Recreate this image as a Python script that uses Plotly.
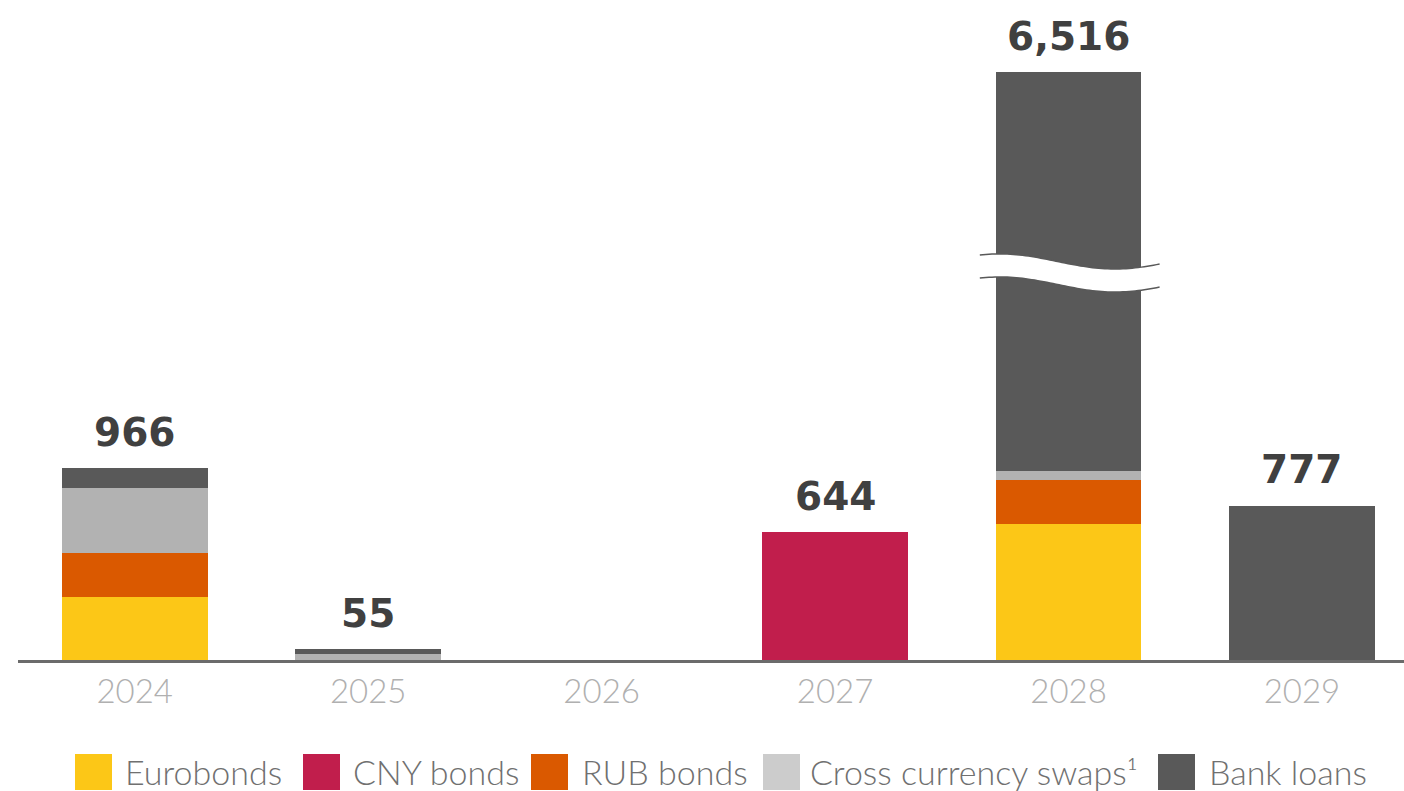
import numpy as np
import plotly.graph_objects as go

# Debt repayment schedule by instrument
years = ["2024", "2025", "2026", "2027", "2028", "2029"]
eurobonds = [317, 0, 0, 0, 686, 0]
cny_bonds = [0, 0, 0, 644, 0, 0]
rub_bonds = [223, 0, 0, 0, 220, 0]
cc_swaps = [325, 28, 0, 0, 45, 0]
bank_loans = [101, 27, 0, 0, 5565, 777]

series_names = ["Eurobonds", "CNY bonds", "RUB bonds", "Cross currency swaps¹", "Bank loans"]
series_values = [eurobonds, cny_bonds, rub_bonds, cc_swaps, bank_loans]
bar_colors = ["#FCC717", "#C11E4C", "#DA5900", "#B2B2B2", "#595959"]
legend_colors = ["#FCC717", "#C11E4C", "#DA5900", "#CCCCCC", "#595959"]

# Broken value axis: values above BREAK_AT are compressed by COMPRESS
BREAK_AT = 1948
COMPRESS = 0.2211
Y_MAX = 3322


def scaled(v):
    return v if v <= BREAK_AT else BREAK_AT + (v - BREAK_AT) * COMPRESS


fig = go.Figure()

cum = [0] * len(years)
for name, vals, col in zip(series_names, series_values, bar_colors):
    heights = []
    for i, v in enumerate(vals):
        heights.append(scaled(cum[i] + v) - scaled(cum[i]))
        cum[i] += v
    fig.add_trace(go.Bar(
        x=years, y=heights, name=name, marker=dict(color=col, line=dict(width=0)),
        width=0.625, showlegend=False, hoverinfo="skip",
    ))

totals = cum

# Value labels above stacks (x given as category index)
for i, t in enumerate(totals):
    if t <= 0:
        continue
    fig.add_annotation(
        x=i, y=scaled(t), text=f"{t:,}", showarrow=False, yanchor="middle", yshift=36,
        font=dict(family="DejaVu Sans", size=39, color="#404040", weight="bold"),
    )

# Wavy break mark across the truncated bar
brk_idx = 4
u = np.linspace(-0.38, 0.39, 60)
wave = 38 * np.cos(np.pi * (2.03 * u + 0.597))
upper = BREAK_AT + 58 + wave
lower = BREAK_AT - 58 + wave
xs = brk_idx + u


def pts(xv, yv):
    return " L".join(f"{a:.4f},{b:.2f}" for a, b in zip(xv, yv))


band = "M" + pts(xs, upper) + " L" + pts(xs[::-1], lower[::-1]) + " Z"
fig.add_shape(type="path", path=band, xref="x", yref="y",
              fillcolor="white", line=dict(width=0))
for edge in (upper, lower):
    fig.add_shape(type="path", path="M" + pts(xs, edge), xref="x", yref="y",
                  fillcolor="rgba(0,0,0,0)", line=dict(color="#595959", width=1.5))

# Legend drawn as squares and labels below the axis
PLOT_L, PLOT_W, PLOT_H = 18, 1386, 660
sq_left = [75, 303, 531, 763, 1158]
txt_left = [123, 351, 580, 808, 1207]
for name, col, sx, tx in zip(series_names, legend_colors, sq_left, txt_left):
    fig.add_shape(
        type="rect", xref="paper", yref="paper",
        x0=(sx - PLOT_L) / PLOT_W, x1=(sx + 37 - PLOT_L) / PLOT_W,
        y0=(PLOT_H - 790) / PLOT_H, y1=(PLOT_H - 754) / PLOT_H,
        fillcolor=col, line=dict(width=0),
    )
    fig.add_annotation(
        xref="paper", yref="paper", x=(tx - PLOT_L) / PLOT_W, y=(PLOT_H - 771) / PLOT_H,
        xanchor="left", yanchor="middle", showarrow=False, text=name,
        font=dict(family="Lato", size=34, color="#707070", weight=300),
    )

fig.update_layout(
    width=1404, height=791,
    margin=dict(l=PLOT_L, r=0, t=0, b=791 - PLOT_H),
    paper_bgcolor="white", plot_bgcolor="white",
    barmode="stack", bargap=0.375,
    xaxis=dict(
        type="category", range=[-0.5, 5.437], showgrid=False, zeroline=False,
        showline=True, linecolor="#6B6B6B", linewidth=3,
        ticks="", tickcolor="rgba(0,0,0,0)",
        tickfont=dict(family="Lato", size=33, color="#B0B0B0", weight=300),
        fixedrange=True,
    ),
    yaxis=dict(range=[0, Y_MAX], visible=False, showgrid=False, zeroline=False, fixedrange=True),
)

fig.write_html("out.html")
